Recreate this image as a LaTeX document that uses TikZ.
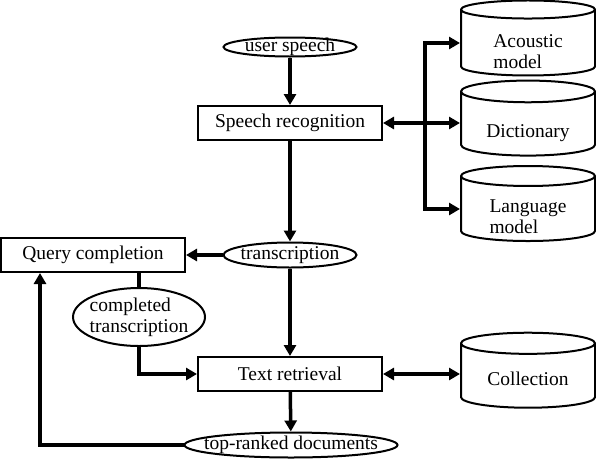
\documentclass[tikz,border=0pt]{standalone}
\usepackage{fontspec}
\setmainfont{Liberation Serif}
\usetikzlibrary{shapes.geometric}
\usetikzlibrary{arrows.meta}
\usetikzlibrary{calc}
\tikzset{
  flow/.style={line width=3.5pt,-{Triangle[length=11pt,width=12pt]}},
  twoway/.style={line width=3.5pt,{Triangle[length=11pt,width=12pt]}-{Triangle[length=11pt,width=12pt]}},
  plain/.style={line width=3.5pt},
  procbox/.style={draw,line width=2pt,minimum width=184pt,minimum height=34pt,inner sep=0pt},
  dataoval/.style={draw,ellipse,line width=2pt,inner xsep=-30pt,inner ysep=-8pt},
  store/.style={draw,cylinder,shape border rotate=90,aspect=0.26,line width=2pt,
    minimum width=134pt,minimum height=75pt,inner sep=0pt},
}
% text of a store, set lower than the middle
\newcommand{\storetext}[2]{\raisebox{-#1}[0pt][0pt]{\begin{tabular}{@{}l@{}}#2\end{tabular}}}

\begin{document}
\begin{tikzpicture}[x=1pt,y=-1pt,font=\fontsize{19.5}{21}\selectfont]
\useasboundingbox (0,0) rectangle (596,458);

%%%%%%%%%%%%%%%%%%%%%%%%%%%%%%%%%%%%%%%%%%%%%%%%%%%%%%%%%%%%%% recognition
\node[dataoval,minimum width=133pt,minimum height=19pt] (us) at (290,47) {user speech};
\node[procbox] (sr) at (290,123) {Speech recognition};
\node[store] (ac) at (528,43) {\storetext{16pt}{Acoustic\\model}};
\node[store] (dict) at (528,124) {\storetext{14pt}{Dictionary}};
\node[store] (lm) at (528,209) {\storetext{15pt}{Language\\model}};
\coordinate (bus) at (425,123);

\draw[flow] (us) -- (sr);
\draw[twoway] (sr.east) -- (dict.west |- sr.east);
\draw[flow] (bus) |- (ac.west);
\draw[flow] (bus) |- (lm.west);

%%%%%%%%%%%%%%%%%%%%%%%%%%%%%%%%%%%%%%%%%%%%%%%%%%%%%%%%%%%%%% completion
\node[dataoval,minimum width=133pt,minimum height=25pt] (tx) at (290,255) {transcription};
\node[procbox] (qc) at (93,255) {Query completion};
\node[dataoval,minimum width=132pt,minimum height=58pt,align=left] (ct) at (139,317) {completed\\transcription};

\draw[flow] (sr) -- (tx);
\draw[flow] (tx) -- (qc);
\draw[plain] (ct.north) -- (ct.north |- qc.south);

%%%%%%%%%%%%%%%%%%%%%%%%%%%%%%%%%%%%%%%%%%%%%%%%%%%%%%%%%%%%%% retrieval
\node[procbox] (tr) at (290,374) {Text retrieval};
\node[store] (coll) at (528,376) {\storetext{10pt}{Collection}};
\node[dataoval,minimum width=213pt,minimum height=25pt] (top) at (291,445) {top-ranked documents};
\coordinate (back) at (40,0);

\draw[flow] (tx) -- (tr);
\draw[flow] (ct.south) |- (tr.west);
\draw[twoway] (tr.east) -- (coll.west |- tr.east);
\draw[flow] (tr) -- (top);
\draw[flow] (top.west) -| (back |- qc.south);

\end{tikzpicture}
\end{document}
